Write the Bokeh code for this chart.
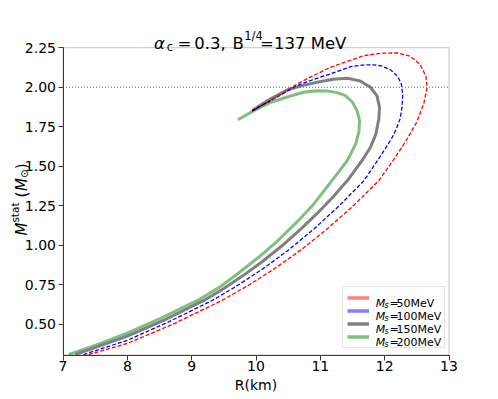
import numpy as np
from bokeh.plotting import figure
from bokeh.models import Range1d, Label, Legend, LegendItem, FixedTicker, NumeralTickFormatter, BoxAnnotation
from bokeh.embed import file_html
from bokeh.resources import INLINE

# ---------------- data ----------------
r_ms50 = [7.40, 8.00, 8.70, 9.47, 9.90, 10.30, 10.70, 11.10, 11.50, 11.91, 12.12, 12.33, 12.50, 12.61, 12.66,
          12.64, 12.55, 12.40, 12.20, 11.95, 11.68, 11.42, 11.16, 10.90, 10.64, 10.23, 9.94]
m_ms50 = [0.31, 0.38, 0.50, 0.652, 0.752, 0.856, 0.972, 1.102, 1.246, 1.41, 1.53, 1.66, 1.78, 1.90, 2.00,
          2.07, 2.145, 2.195, 2.217, 2.215, 2.200, 2.164, 2.126, 2.075, 2.021, 1.916, 1.85]

r_ms100 = [7.32, 8.00, 8.65, 9.32, 9.70, 10.10, 10.50, 10.90, 11.30, 11.68, 11.89, 11.99, 12.10, 12.17, 12.24,
           12.27, 12.28, 12.26, 12.20, 12.09, 11.95, 11.82, 11.65, 11.47, 11.16, 10.90, 10.64, 10.23, 9.94]
m_ms100 = [0.31, 0.40, 0.518, 0.652, 0.743, 0.85, 0.969, 1.104, 1.253, 1.41, 1.537, 1.60, 1.67, 1.726, 1.80,
           1.874, 1.95, 2.02, 2.07, 2.11, 2.135, 2.142, 2.14, 2.13, 2.085, 2.05, 2.011, 1.916, 1.85]

r_ms150 = [7.19, 8.00, 8.60, 9.19, 9.50, 9.80, 10.10, 10.40, 10.70, 10.95, 11.20, 11.42, 11.65, 11.78, 11.86,
           11.91, 11.92, 11.88, 11.78, 11.62, 11.42, 11.20, 10.95, 10.72, 10.49, 10.20, 9.94]
m_ms150 = [0.31, 0.426, 0.533, 0.652, 0.728, 0.809, 0.898, 0.996, 1.104, 1.202, 1.308, 1.41, 1.537, 1.621, 1.70,
           1.80, 1.874, 1.945, 2.00, 2.04, 2.057, 2.05, 2.032, 2.01, 1.984, 1.92, 1.853]

r_ms200 = [7.09, 7.50, 8.00, 8.55, 9.09, 9.45, 9.75, 10.05, 10.35, 10.65, 10.90, 11.18, 11.42, 11.55, 11.60,
           11.61, 11.57, 11.50, 11.39, 11.26, 11.10, 10.95, 10.74, 10.50, 10.23, 9.98, 9.72]
m_ms200 = [0.31, 0.367, 0.445, 0.545, 0.652, 0.74, 0.832, 0.928, 1.034, 1.153, 1.262, 1.41, 1.537, 1.642, 1.72,
           1.79, 1.853, 1.905, 1.947, 1.966, 1.977, 1.978, 1.968, 1.94, 1.905, 1.855, 1.794]

r_overlap = [9.94, 10.08, 10.22]
m_overlap = [1.85, 1.885, 1.912]

ms_values = ["50", "100", "150", "200"]
x_ticks = [7, 8, 9, 10, 11, 12, 13]
y_ticks = [0.50, 0.75, 1.00, 1.25, 1.50, 1.75, 2.00, 2.25]
x_limits = (7.0, 13.0)
y_limits = (0.307, 2.25)
ref_mass = 2.0

# ---------------- layout (pixel geometry of the axes box on the canvas) ----------------
W, H = 498, 399
BOX_L, BOX_R, BOX_T, BOX_B = 62.5, 448.5, 47.2, 354.5
sx = (BOX_R - BOX_L) / (x_limits[1] - x_limits[0])
sy = (BOX_B - BOX_T) / (y_limits[1] - y_limits[0])
x_range = Range1d(x_limits[0] - BOX_L / sx, x_limits[1] + (W - BOX_R) / sx)
y_range = Range1d(y_limits[0] - (H - BOX_B) / sy, y_limits[1] + BOX_T / sy)

p = figure(width=W, height=H, output_backend="svg", toolbar_location=None, title=None,
           x_range=x_range, y_range=y_range,
           min_border_left=0, min_border_right=0, min_border_top=0, min_border_bottom=0)
p.background_fill_color = "white"
p.border_fill_color = "white"
p.outline_line_color = None
p.grid.visible = False

AXC = "#3a3a3a"
for ax in (p.xaxis[0], p.yaxis[0]):
    ax.axis_line_color = AXC
    ax.major_tick_line_color = AXC
    ax.major_tick_out = 5
    ax.major_tick_in = 0
    ax.minor_tick_line_color = None
    ax.major_label_text_font = "DejaVu Sans"
    ax.major_label_text_font_size = "14px"
    ax.major_label_text_color = "black"
p.xaxis.fixed_location = y_limits[0]
p.xaxis.bounds = x_limits
p.xaxis.major_label_standoff = 1
p.yaxis.fixed_location = x_limits[0]
p.yaxis.bounds = y_limits
p.yaxis.major_label_standoff = 2
p.xaxis.ticker = FixedTicker(ticks=x_ticks)
p.yaxis.ticker = FixedTicker(ticks=y_ticks)
p.yaxis.formatter = NumeralTickFormatter(format="0.00")
p.xaxis.formatter = NumeralTickFormatter(format="0")

# axes box
p.add_layout(BoxAnnotation(left=x_limits[0], right=x_limits[1], bottom=y_limits[0], top=y_limits[1],
                           fill_alpha=0, line_color=AXC, line_width=1))

# curves
p.line(r_ms200, m_ms200, line_color="#008000", line_alpha=0.5, line_width=3, line_join="round")
p.line(r_ms150, m_ms150, line_color="#808080", line_width=3, line_join="round")
p.line(r_ms100, m_ms100, line_color="#0000ff", line_width=1.3, line_dash="4 2")
p.line(r_ms50, m_ms50, line_color="#ff0000", line_width=1.3, line_dash="4 2")
p.line(r_overlap, m_overlap, line_color="black", line_width=1.3, line_dash="4 2")

# reference line at 2 solar masses
p.line(list(x_limits), [ref_mass, ref_mass], line_color="#1f77b4", line_dash="1 2", line_width=1.2)

# legend (proxy swatches: single-point lines draw nothing in the plot)
swatch_colors = ["#ff0000", "#0000ff", "#808080", "#008000"]
swatch_alpha = [0.5, 0.5, 1.0, 0.5]
curves_r = [r_ms50, r_ms100, r_ms150, r_ms200]
curves_m = [m_ms50, m_ms100, m_ms150, m_ms200]
items = []
for c, a, rr, mm in zip(swatch_colors, swatch_alpha, curves_r, curves_m):
    r = p.line(rr[:1], mm[:1], line_color=c, line_alpha=a, line_width=3.5)
    items.append(LegendItem(label=" ", renderers=[r]))
LEG_L, LEG_T, LEG_B = 342, 288, 348
leg = Legend(items=items, location=(LEG_L, H - LEG_B), padding=4, spacing=0,
             glyph_width=22, glyph_height=13, label_height=13, label_width=66, label_standoff=5,
             label_text_font_size="9px", border_line_color="#cccccc", border_line_width=1,
             background_fill_color="white", background_fill_alpha=0.0)
p.add_layout(leg)


def add_text(cx, cy, t, fs, style="normal", align="left", angle=0.0):
    p.add_layout(Label(x=cx, y=cy, x_units="canvas", y_units="canvas", text=t, text_font="DejaVu Sans",
                       text_font_size=fs, text_font_style=style, text_baseline="alphabetic",
                       text_align=align, angle=angle, text_color="black"))


for i, ms in enumerate(ms_values):
    base = LEG_T + 4 + 6.5 + 13 * i + 4
    add_text(375.2, base, "M", "11px", "italic")
    add_text(384.0, base + 2.5, "s", "8px", "italic")
    add_text(389.0, base, "=", "11px")
    add_text(396.0, base, ms + "MeV", "11px")

# title pieces
TB = 42.7
add_text(153.5, TB, "α", "16.5px", "italic")
add_text(166.3, TB + 3.5, "c", "11.5px")
add_text(177.0, TB, "=", "16.5px")
add_text(193.8, TB, "0.3,", "16.5px")
add_text(232.0, TB, "B", "16.5px")
add_text(243.8, TB - 7, "1/4", "11.5px")
add_text(259.6, TB, "=137 MeV", "16.5px")

# y axis label (rotated pieces)
add_text(21.0, 235.0, "M", "15px", "italic", angle=np.pi / 2)
add_text(14.5, 222.1, "stat", "10.5px", angle=np.pi / 2)
add_text(21.0, 197.0, "(", "15px", angle=np.pi / 2)
add_text(21.0, 190.4, "M", "15px", "italic", angle=np.pi / 2)
add_text(23.8, 177.5, "⊙", "10.5px", angle=np.pi / 2)
add_text(21.0, 168.7, ")", "15px", angle=np.pi / 2)

# x axis label
add_text(255.5, 384.5, "R(km)", "14px", align="center")

open("out.html", "w").write(file_html(p, INLINE))
